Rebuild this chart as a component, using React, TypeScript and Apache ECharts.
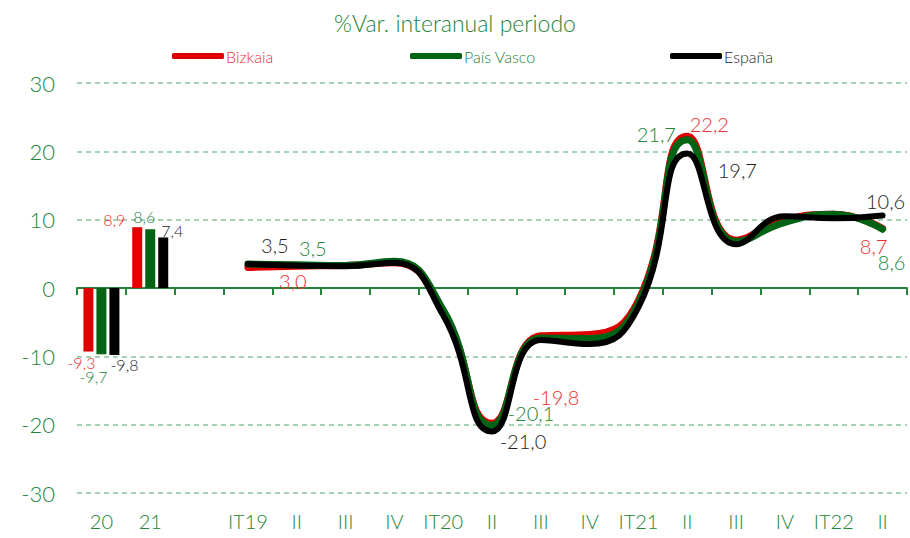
import React, { useEffect, useRef } from "react";
import * as echarts from "echarts";

const categories = ["20", "21", "", "IT19", "II", "III", "IV", "IT20", "II", "III", "IV", "IT21", "II", "III", "IV", "IT22", "II"];
const seriesNames = ["Bizkaia", "País Vasco", "España"];

// annual (bars) values for 20 and 21
const bizkaiaYear = [-9.3, 8.9];
const paisVascoYear = [-9.7, 8.6];
const espanaYear = [-9.8, 7.4];

// quarterly values IT19 .. II 2022
const bizkaiaQ = [3.0, 3.2, 3.3, 3.7, -3.5, -19.8, -7.0, -6.8, -1.8, 22.2, 7.0, 10.0, 10.8, 8.7];
const paisVascoQ = [3.5, 3.4, 3.3, 3.9, -3.2, -20.1, -7.3, -7.4, -2.2, 21.7, 6.8, 9.6, 10.8, 8.6];
const espanaQ = [3.5, 3.3, 3.2, 3.7, -4.0, -21.0, -7.6, -8.2, -2.8, 19.7, 6.4, 10.5, 10.2, 10.6];

const lineColors = ["#E00000", "#006414", "#000000"];
const labelColors = ["#EE2F2F", "#23843A", "#1E1E1E"];
const GREEN = "#23843A";
const FONT = "Lato, 'Open Sans', sans-serif";
const W = 300;

// label offsets (index in quarterly array -> [dx, dy]) per series
const lineLabelOffsets: Record<number, [number, number]>[] = [
  { 0: [45, 13], 5: [64, -26], 9: [22, -12], 13: [-9, 17] },
  { 0: [65, -16], 5: [39, -12], 9: [-31, -6], 13: [9, 33] },
  { 0: [27, -19], 5: [31, 9], 9: [50, 17], 13: [3, -15] },
];
const barLabelOffsets: [number, number][][] = [
  [[-7, -2], [-23, 5]],
  [[-8, 9], [-6, 0]],
  [[10, -3], [9, 6]],
];
const legendLefts = [167, 405, 665];

const fmt = (v: number) => v.toFixed(1).replace(".", ",");

export default function App() {
  const ref = useRef<HTMLDivElement>(null);
  useEffect(() => {
    if (!ref.current) return;
    const chart = echarts.init(ref.current, undefined, { renderer: "svg" });
    const years = [bizkaiaYear, paisVascoYear, espanaYear];
    const quarters = [bizkaiaQ, paisVascoQ, espanaQ];
    const offset = categories.length - bizkaiaQ.length;

    const barSeries = years.map((arr, s) => ({
      type: "bar",
      name: seriesNames[s],
      xAxisIndex: 0,
      barWidth: 10,
      barGap: "30%",
      itemStyle: { color: lineColors[s] },
      z: 2,
      data: categories.map((_, i) =>
        i < arr.length
          ? {
              value: arr[i],
              label: {
                show: true,
                position: arr[i] >= 0 ? "top" : "bottom",
                offset: barLabelOffsets[s][i],
                formatter: () => fmt(arr[i]),
                color: labelColors[s],
                fontSize: 16,
                fontWeight: W,
                fontFamily: FONT,
              },
            }
          : "-"
      ),
    }));

    const lineSeries = quarters.map((arr, s) => ({
      type: "line",
      name: seriesNames[s],
      xAxisIndex: 0,
      smooth: 0.5,
      symbol: "circle",
      symbolSize: 1,
      showSymbol: true,
      lineStyle: { color: lineColors[s], width: s === 2 ? 6 : 7, cap: "round" },
      itemStyle: { color: lineColors[s] },
      z: 3 + s,
      data: categories.map((_, i) => {
        if (i < offset) return "-";
        const k = i - offset;
        const off = lineLabelOffsets[s][k];
        if (!off) return arr[k];
        return {
          value: arr[k],
          label: {
            show: true,
            position: "inside",
            offset: off,
            formatter: () => fmt(arr[k]),
            color: labelColors[s],
            fontSize: 20,
            fontWeight: W,
            fontFamily: FONT,
          },
        };
      }),
    }));

    chart.setOption({
      animation: false,
      textStyle: { fontFamily: FONT },
      title: {
        text: "%Var. interanual periodo",
        left: "center",
        top: 6,
        textStyle: { color: GREEN, fontSize: 23, fontWeight: W, fontFamily: FONT },
      },
      legend: seriesNames.map((n, i) => ({
        top: 43,
        left: legendLefts[i],
        itemWidth: 52,
        itemHeight: 6,
        icon: "roundRect",
        data: [{ name: n, textStyle: { color: labelColors[i] } }],
        textStyle: { fontSize: 16, fontWeight: W, fontFamily: FONT, padding: [0, 0, 0, -3] },
      })),
      grid: { left: 77, right: 3, top: 83, bottom: 45, containLabel: false },
      xAxis: [
        {
          type: "category",
          data: categories,
          boundaryGap: true,
          axisLine: { onZero: true, lineStyle: { color: GREEN, width: 2 } },
          axisTick: { show: true, length: 7, lineStyle: { color: GREEN, width: 2 } },
          axisLabel: { show: false },
          splitLine: { show: false },
        },
        {
          type: "category",
          data: categories,
          position: "bottom",
          boundaryGap: true,
          axisLine: { show: false, onZero: false },
          axisTick: { show: false },
          axisLabel: { show: true, color: GREEN, fontSize: 20, fontWeight: W, margin: 18, interval: 0, fontFamily: FONT },
          splitLine: { show: false },
        },
      ],
      yAxis: {
        type: "value",
        min: -30,
        max: 30,
        interval: 10,
        axisLine: { show: false },
        axisTick: { show: false },
        axisLabel: { color: GREEN, fontSize: 22, fontWeight: W, margin: 22, fontFamily: FONT },
        splitLine: { lineStyle: { color: "#8CC49A", type: [5, 4], width: 1.5 } },
      },
      series: [...barSeries, ...lineSeries],
    });
    return () => chart.dispose();
  }, []);
  return <div ref={ref} style={{ width: 910, height: 538, position: "absolute", left: 0, top: 0 }} />;
}
